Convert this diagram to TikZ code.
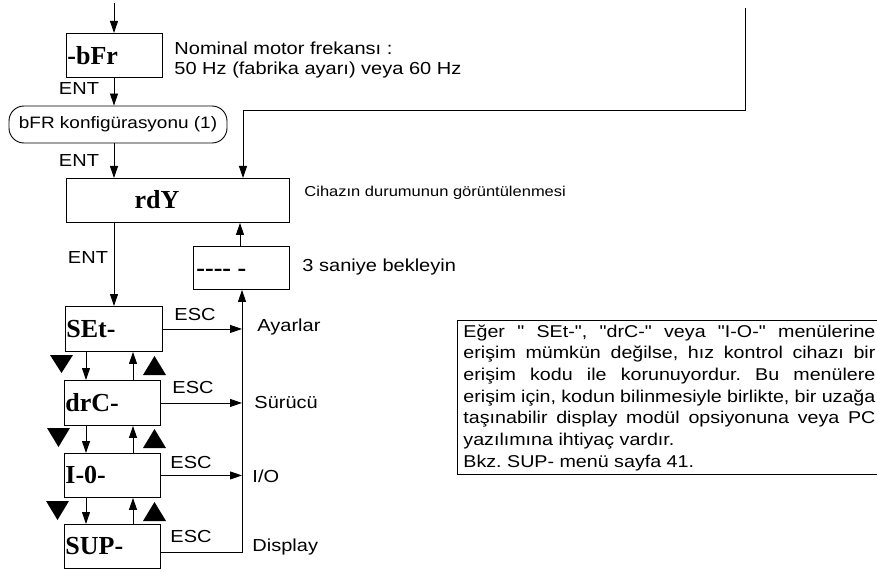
\documentclass[tikz,border=0pt]{standalone}
\usepackage{fontspec}
\setmainfont{Liberation Serif}
\newfontfamily\hv[FakeStretch=1.15]{Liberation Sans}
\usetikzlibrary{arrows.meta}
\frenchspacing
\begin{document}
\begin{tikzpicture}[x=1pt,y=-1pt,
  line width=0.9pt,
  arr/.style={-{Triangle[length=12pt,width=8pt]}},
  box/.style={draw, inner sep=0pt, anchor=north west},
  lcd/.style={font=\fontsize{26}{26}\selectfont\bfseries, inner sep=1pt},
  lbl/.style={font=\hv\fontsize{17.4}{21}\selectfont, inner sep=0pt},
  small/.style={font=\hv\fontsize{14.35}{16}\selectfont, inner sep=0pt},
  tri/.style={fill=black, draw=none}]
\useasboundingbox (0,0) rectangle (877,572);

% boxes
\node[box, minimum width=96pt, minimum height=44pt] (bfr) at (66,33) {};
\node[lcd, anchor=west] (bfrt) at (bfr.west) {-bFr};
\node[lbl, anchor=west] (nom1) at (174,48) {Nominal motor frekansı :};
\node[lbl, anchor=west] (nom2) at (174,70) {50 Hz (fabrika ayarı) veya 60 Hz};

\node[draw, rounded corners=15pt, minimum width=218pt, minimum height=37pt, lbl, font=\hv\fontsize{16.5}{20}\selectfont] (cfg) at (118,124.5) {bFR konfigürasyonu (1)};

\node[box, minimum width=223pt, minimum height=44pt] (rdy) at (66,178) {};
\node[lcd] (rdyt) at (157,200) {rdY};
\node[small, anchor=west] (cih) at (304,193) {Cihazın durumunun görüntülenmesi};

\node[box, minimum width=96pt, minimum height=43pt] (wait) at (193,246) {};
\node[lcd, anchor=west] (waitt) at (195,273) {-{}-{}-{}- -};
\node[lbl, anchor=west] (sn) at (302,267) {3 saniye bekleyin};

\node[box, minimum width=97pt, minimum height=45pt] (set) at (65,306) {};
\node[lcd, anchor=west] (sett) at (set.west) {SEt-};
\node[box, minimum width=96pt, minimum height=45pt] (drc) at (64,380) {};
\node[lcd, anchor=west] (drct) at (drc.west) {drC-};
\node[box, minimum width=96pt, minimum height=44pt] (io) at (64,453) {};
\node[lcd, anchor=west] (iot) at (io.west) {I-0-};
\node[box, minimum width=96pt, minimum height=44pt] (sup) at (64,524) {};
\node[lcd, anchor=west] (supt) at (sup.west) {SUP-};

% top flow
\coordinate (top) at (114,3);
\draw[arr] (top) -- (top |- bfr.north);
\draw[arr] (top |- bfr.south) -- (top |- cfg.north);
\node[lbl] (ent1) at (79,89) {ENT};
\draw[arr] (top |- cfg.south) -- (top |- rdy.north);
\node[lbl] (ent2) at (79,161) {ENT};

\coordinate (tr) at (745,8);
\coordinate (j) at (243,110);
\draw[arr] (tr) |- (j) -- (j |- rdy.north);

\draw[arr] (wait.north -| 240,0) -- (240,0 |- rdy.south);
\draw[arr] (top |- rdy.south) -- (top |- set.north);
\node[lbl] (ent3) at (88,258) {ENT};

% return line
\coordinate (ret) at (242,552);
\draw[arr] (sup.east |- ret) -- (ret) -- (ret |- wait.south);

% ESC arrows
\draw[arr] (set.east) -- (set.east -| ret);
\draw[arr] (drc.east) -- (drc.east -| ret);
\draw[arr] (io.east) -- (io.east -| ret);
\node[lbl] (esc1) at (195,315) {ESC};
\node[lbl] (esc2) at (193,388) {ESC};
\node[lbl] (esc3) at (191,463) {ESC};
\node[lbl] (esc4) at (191,537) {ESC};
\node[lbl, anchor=west] (ay) at (257,327) {Ayarlar};
\node[lbl, anchor=west] (sr) at (254,403) {Sürücü};
\node[lbl, anchor=west] (ioo) at (252,476) {I/O};
\node[lbl, anchor=west] (dsp) at (252,547) {Display};

% up / down arrows between menus
\draw[arr] (86,0 |- set.south) -- (86,0 |- drc.north);
\draw[arr] (133,0 |- drc.north) -- (133,0 |- set.south);
\draw[arr] (86,0 |- drc.south) -- (86,0 |- io.north);
\draw[arr] (133,0 |- io.north) -- (133,0 |- drc.south);
\draw[arr] (86,0 |- io.south) -- (86,0 |- sup.north);
\draw[arr] (133,0 |- sup.north) -- (133,0 |- io.south);

% black triangles
\fill[tri] (50,355) -- (73,355) -- (61.5,373) -- cycle;
\fill[tri] (47,428) -- (70,428) -- (58.5,447) -- cycle;
\fill[tri] (46,501) -- (69,501) -- (57.5,520) -- cycle;
\fill[tri] (143,375) -- (166,375) -- (154.5,356) -- cycle;
\fill[tri] (143,448) -- (166,448) -- (154.5,429) -- cycle;
\fill[tri] (143,521) -- (166,521) -- (154.5,502) -- cycle;

% note box
\node[draw, anchor=north west, inner xsep=6pt, inner ysep=4pt, text width=412pt, align=justify,
  font=\hv\fontsize{17.1}{21.7}\selectfont] (note) at (457,320) {%
Eğer " SEt-", "drC-" veya "I-O-" menülerine\linebreak
erişim mümkün değilse, hız kontrol cihazı bir\linebreak
erişim kodu ile korunuyordur. Bu menülere\linebreak
erişim için, kodun bilinmesiyle birlikte, bir uzağa\linebreak
taşınabilir display modül opsiyonuna veya PC\linebreak
yazılımına ihtiyaç vardır.\\
Bkz. SUP- menü sayfa 41.};
\end{tikzpicture}
\end{document}
